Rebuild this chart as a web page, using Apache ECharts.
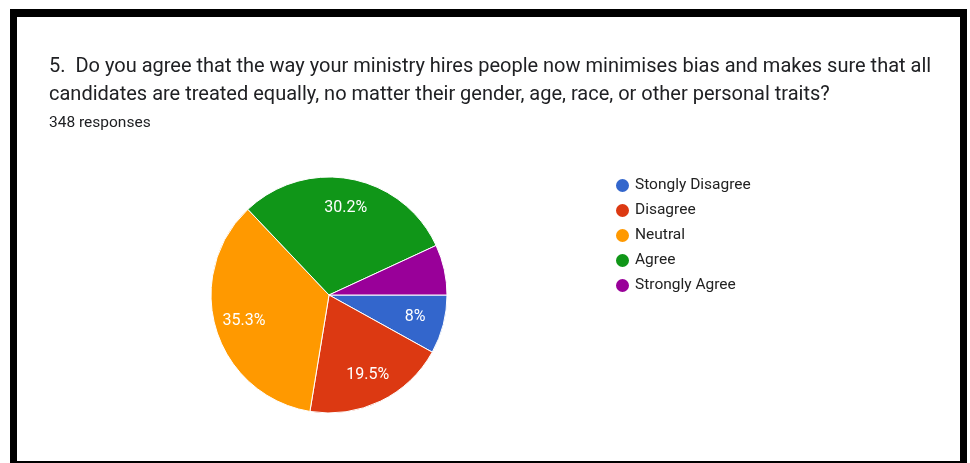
<!DOCTYPE html>
<html>
<head>
<meta charset="utf-8">
<script src="https://cdn.jsdelivr.net/npm/echarts@6/dist/echarts.min.js"></script>
<style>
  html, body { margin: 0; padding: 0; background: #fff; }
  #chart { width: 970px; height: 463px; }
</style>
</head>
<body>
<div id="chart"></div>
<script>
const titleLines = [
  '5.  Do you agree that the way your ministry hires people now minimises bias and makes sure that all',
  'candidates are treated equally, no matter their gender, age, race, or other personal traits?'
];
const subtitle = '348 responses';
const categories = ['Stongly Disagree', 'Disagree', 'Neutral', 'Agree', 'Strongly Agree'];
const responses = [28, 68, 123, 105, 24];

const palette = ['#3366cc', '#dc3912', '#ff9900', '#109618', '#990099'];
const total = responses.reduce((a, b) => a + b, 0);
const pieData = categories.map((name, i) => ({ name, value: responses[i] }));
const fontFamily = 'Roboto, Arial, sans-serif';

function pctLabel(v) {
  const p = v / total * 100;
  if (p < 7.5) return '';
  let s = p.toFixed(1);
  if (s.endsWith('.0')) s = s.slice(0, -2);
  return s + '%';
}

const chart = echarts.init(document.getElementById('chart'), null, { renderer: 'canvas' });
const center = [329, 295];
const R = 118;

chart.setOption({
  animation: false,
  color: palette,
  graphic: [
    { type: 'rect', z: -10, silent: true, shape: { x: 10, y: 9, width: 957, height: 470 }, style: { fill: '#000' } },
    { type: 'rect', z: -9, silent: true, shape: { x: 17, y: 17, width: 943, height: 444 }, style: { fill: '#fff' } }
  ],
  title: {
    text: titleLines.join('\n'),
    subtext: subtitle,
    left: 44,
    top: 48,
    itemGap: 5,
    textStyle: { fontFamily, fontSize: 20, fontWeight: 'normal', color: '#202124', lineHeight: 28 },
    subtextStyle: { fontFamily, fontSize: 15.5, color: '#202124', lineHeight: 18 }
  },
  legend: {
    orient: 'vertical',
    left: 609,
    top: 172,
    icon: 'circle',
    itemWidth: 15,
    itemHeight: 15,
    itemGap: 8,
    textStyle: { fontFamily, fontSize: 15.5, color: '#222', lineHeight: 17 },
    selectedMode: false,
    data: categories
  },
  series: [
    {
      type: 'pie',
      center,
      radius: [0, R],
      startAngle: 0,
      clockwise: true,
      silent: true,
      label: { show: false },
      labelLine: { show: false },
      itemStyle: { borderColor: '#fff', borderWidth: 1 },
      data: pieData
    },
    {
      type: 'pie',
      center,
      radius: [54, R],
      startAngle: 0,
      clockwise: true,
      silent: true,
      legendHoverLink: false,
      itemStyle: { color: 'rgba(0,0,0,0)', borderWidth: 0 },
      label: {
        show: true,
        position: 'inside',
        fontFamily,
        fontSize: 16,
        color: '#fff',
        formatter: p => pctLabel(p.value)
      },
      labelLine: { show: false },
      data: pieData.map(d => ({ name: d.name + ' ', value: d.value }))
    }
  ]
});
</script>
</body>
</html>
